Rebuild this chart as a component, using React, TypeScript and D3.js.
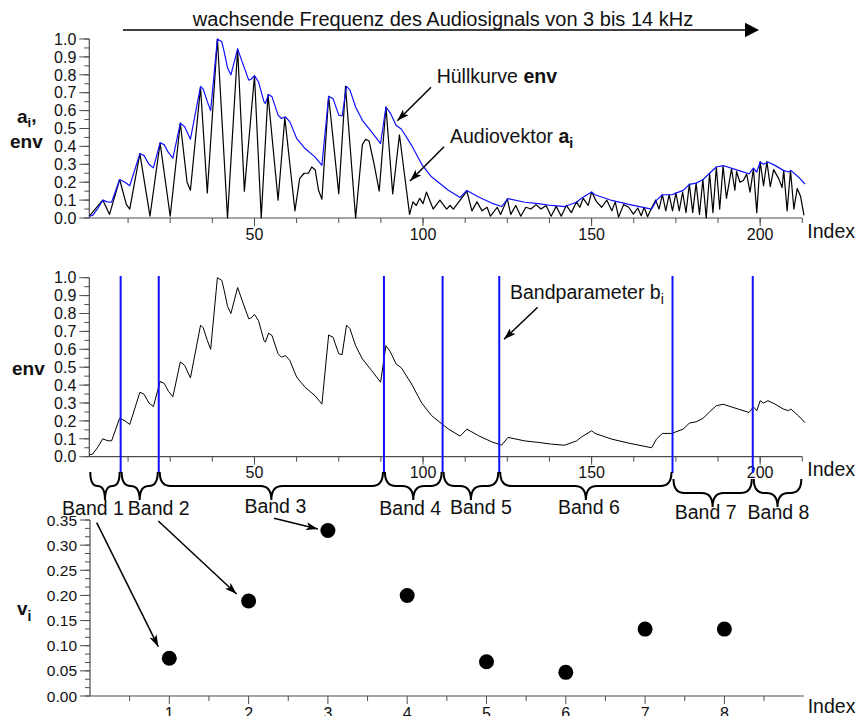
import * as d3 from "d3";

// audio vector a_i, read as [index, value] vertices
const audioVector: [number, number][] = [
  [1, 0.01], [5, 0.1], [7, 0.02], [10, 0.215], [12, 0.075], [13, 0.05], [16, 0.36], [19, 0.01],
  [22, 0.42], [25, 0.01], [28, 0.53], [30, 0.2], [31, 0.155], [34, 0.73], [36, 0.14], [39, 1.0],
  [42, 0.0], [45, 0.945], [47, 0.15], [50, 0.795], [52, 0.0], [54, 0.69], [57, 0.1], [59, 0.56],
  [62, 0.04], [63.4, 0.22], [64.7, 0.25], [66, 0.25], [67, 0.285], [68, 0.27], [69, 0.155], [70, 0.105],
  [72, 0.68], [75, 0.135], [77, 0.735], [80, 0.0], [82, 0.41], [83, 0.44], [84, 0.43], [85.5, 0.3],
  [87, 0.15], [89, 0.62], [91, 0.135], [93, 0.465], [96, 0.02], [97, 0.09], [98, 0.07], [99, 0.11],
  [100, 0.08], [101, 0.145], [103, 0.05], [105, 0.1], [107, 0.05], [108, 0.07], [109, 0.05], [111, 0.1],
  [113, 0.15], [114.5, 0.04], [116, 0.09], [117.5, 0.04], [119, 0.06], [120, 0.01], [122, 0.06], [123, 0.02],
  [125, 0.107], [126, 0.02], [127.5, 0.07], [129, 0.01], [130.5, 0.06], [132, 0.05], [133.5, 0.075], [135, 0.05],
  [136.5, 0.07], [138, 0.01], [139.5, 0.065], [141, 0.01], [142.5, 0.07], [144, 0.03], [145.5, 0.09], [146.5, 0.06],
  [147.5, 0.11], [149, 0.07], [150, 0.145], [151.5, 0.09], [153, 0.06], [154.5, 0.1], [156, 0.04], [157, 0.09],
  [158, 0.005], [159.5, 0.075], [161, 0.06], [162.4, 0.022], [163.7, 0.056], [164.7, 0.013], [165.6, 0.06], [166.6, 0.007],
  [167.8, 0.056], [169, 0.1], [170, 0.05], [171, 0.13], [172, 0.04], [173, 0.13], [174, 0.04], [175, 0.14],
  [176, 0.04], [177, 0.145], [178, 0.03], [179, 0.19], [180, 0.03], [181, 0.195], [182, 0.02], [183, 0.215],
  [184, 0.0], [185, 0.25], [186, 0.03], [187, 0.285], [188, 0.05], [189, 0.29], [190, 0.11], [191.5, 0.275],
  [192.5, 0.155], [193, 0.26], [194, 0.2], [195, 0.21], [196, 0.245], [197, 0.145], [198, 0.275], [199, 0.03],
  [200, 0.315], [201, 0.18], [202, 0.315], [203, 0.175], [204, 0.27], [205.5, 0.22], [206.5, 0.17], [207, 0.265],
  [208, 0.04], [209, 0.265], [210, 0.05], [211, 0.165], [212, 0.12], [213, 0.015],
];

// envelope env, read as [index, value] vertices
const envelope: [number, number][] = [
  [1, 0.01], [2, 0.015], [3.4, 0.05], [5, 0.1], [6.3, 0.09], [7.6, 0.088], [10, 0.215], [11.6, 0.2],
  [13, 0.18], [16, 0.36], [17.2, 0.35], [18.7, 0.3], [20, 0.28], [22, 0.42], [23.2, 0.41], [24.5, 0.365],
  [25.8, 0.335], [28, 0.53], [29.3, 0.51], [31, 0.44], [34, 0.735], [34.8, 0.72], [36, 0.65], [37, 0.6],
  [39, 1.0], [40.3, 0.985], [41, 0.93], [42, 0.84], [43, 0.8], [45, 0.945], [46.3, 0.875], [48.3, 0.77],
  [49, 0.775], [50, 0.795], [51.2, 0.76], [52.8, 0.65], [53.2, 0.64], [54.2, 0.69], [55.2, 0.677], [57, 0.575],
  [58, 0.556], [59.2, 0.565], [60.5, 0.537], [62.5, 0.445], [65, 0.388], [68, 0.34], [70, 0.294], [72, 0.68],
  [73.3, 0.667], [75, 0.575], [76, 0.57], [77.3, 0.735], [78.3, 0.716], [80, 0.62], [82, 0.546], [84.8, 0.48],
  [87.4, 0.416], [89, 0.62], [90.3, 0.586], [92, 0.518], [93.6, 0.496], [96.6, 0.406], [99.6, 0.3], [102.5, 0.23],
  [107.5, 0.155], [111, 0.115], [113, 0.154], [116.5, 0.117], [120.5, 0.082], [123.3, 0.064], [125.2, 0.108], [130.2, 0.088],
  [134.2, 0.08], [138.1, 0.07], [142, 0.064], [145.5, 0.088], [147, 0.11], [150, 0.145], [151, 0.13], [156, 0.098],
  [161, 0.076], [167.8, 0.05], [169.3, 0.1], [171, 0.13], [173.8, 0.13], [175, 0.139], [177.2, 0.154], [179, 0.188],
  [181, 0.195], [183, 0.214], [185, 0.25], [187, 0.285], [189, 0.293], [193.5, 0.266], [196.7, 0.247], [198, 0.278],
  [199, 0.257], [200, 0.313], [201, 0.3], [202.3, 0.313], [204.4, 0.294], [206.9, 0.266], [208.4, 0.257], [209.1, 0.266],
  [211.4, 0.228], [213.3, 0.19],
];

// band parameters b_i (index boundaries)
const bandBounds = [10.3, 21.6, 88.4, 105.8, 122.6, 174.0, 197.8];
const bandNames = ["Band 1", "Band 2", "Band 3", "Band 4", "Band 5", "Band 6", "Band 7", "Band 8"];
const bandNumbers = [1, 2, 3, 4, 5, 6, 7, 8];
const bandValues = [0.075, 0.189, 0.329, 0.2, 0.068, 0.047, 0.133, 0.133];

const indexTicks = [50, 100, 150, 200];
const bandTicks = [1, 2, 3, 4, 5, 6, 7, 8];

const FONT = "Liberation Sans, Arial, Helvetica, sans-serif";
const AXIS = "#4d4d4d";
const BLUE = "#1010ff";

// scales
const xIdx = d3.scaleLinear().domain([1, 212.5]).range([89.3, 802.3]);
const yTop = d3.scaleLinear().domain([0, 1]).range([218, 39]);
const yMid = d3.scaleLinear().domain([0, 1]).range([456.7, 277.7]);
const xBand = d3.scaleLinear().domain([0, 9]).range([90, 803.7]);
const yBand = d3.scaleLinear().domain([0, 0.35]).range([696, 520]);

function YAxis({ scale, x, major, minor, fmt, size }: any) {
  const [d0, d1] = scale.domain();
  return (
    <g>
      <line x1={x} x2={x} y1={scale(d0)} y2={scale(d1)} stroke={AXIS} strokeWidth={1.2} />
      {minor.map((v: number, i: number) => (
        <line key={"m" + i} x1={x - 5} x2={x} y1={scale(v)} y2={scale(v)} stroke={AXIS} strokeWidth={1} />
      ))}
      {major.map((v: number, i: number) => (
        <g key={"M" + i}>
          <line x1={x - 10} x2={x} y1={scale(v)} y2={scale(v)} stroke={AXIS} strokeWidth={1} />
          <text x={x - 13} y={scale(v) + size * 0.36} textAnchor="end" fontSize={size} fontFamily={FONT} fill="#111">
            {fmt(v)}
          </text>
        </g>
      ))}
    </g>
  );
}

function XAxis({ scale, y, x0, x1, major, minor, labelY, size, labelLen }: any) {
  return (
    <g>
      <line x1={scale(x0)} x2={scale(x1)} y1={y} y2={y} stroke={AXIS} strokeWidth={1.2} />
      {minor.map((v: number, i: number) => (
        <line key={"m" + i} x1={scale(v)} x2={scale(v)} y1={y} y2={y + 5} stroke={AXIS} strokeWidth={1} />
      ))}
      {major.map((v: number, i: number) => (
        <g key={"M" + i}>
          <line x1={scale(v)} x2={scale(v)} y1={y} y2={y + labelLen} stroke={AXIS} strokeWidth={1} />
          <text x={scale(v)} y={labelY} textAnchor="middle" fontSize={size} fontFamily={FONT} fill="#111">
            {v}
          </text>
        </g>
      ))}
      <text x={scale(x1) + 5} y={labelY - 2} fontSize={19.5} fontFamily={FONT} fill="#111">
        Index
      </text>
    </g>
  );
}

function bracePath(x1: number, x2: number, y: number, h: number) {
  const xm = (x1 + x2) / 2;
  const r = Math.min(11, (x2 - x1) / 4);
  const ym = y + h * 0.5;
  return `M${x1},${y} Q${x1},${ym} ${x1 + r},${ym} L${xm - r},${ym} Q${xm},${ym} ${xm},${y + h} ` +
    `Q${xm},${ym} ${xm + r},${ym} L${x2 - r},${ym} Q${x2},${ym} ${x2},${y}`;
}

// label offsets (layout only)
const bandLabelDx = [-12, 19, 4, -3, 10, 3, -7, 1];
const bandLabelY = [515, 515, 513, 515, 514, 514, 519, 519];
const braceTop = [472, 472, 472, 472, 472, 472, 479, 479];

export default function App() {
  const lineTop = d3.line<[number, number]>().x((d) => xIdx(d[0])).y((d) => yTop(d[1]));
  const lineMid = d3.line<[number, number]>().x((d) => xIdx(d[0])).y((d) => yMid(d[1]));

  const tenth = d3.range(0, 11).map((i) => i / 10);
  const twentieth = d3.range(0, 21).map((i) => i / 20);
  const idxMinor = d3.range(1, 18).map((i) => i * 12.5);
  const vMajor = d3.range(0, 8).map((i) => i * 0.05);
  const vMinor = d3.range(0, 22).map((i) => (i * 0.05) / 3);
  const bMinor = d3.range(1, 18).map((i) => i * 0.5);

  const edges = [xIdx.domain()[0], ...bandBounds, xIdx.domain()[1]];

  const dot = (n: number) => [xBand(bandNumbers[n]), yBand(bandValues[n])];
  const d1 = dot(0), d2 = dot(1), d3p = dot(2);

  return (
    <svg width={858} height={716} style={{ position: "absolute", left: 0, top: 0, background: "#fff" }}>
      <defs>
        <marker id="ah" viewBox="0 0 12 8" refX={12} refY={4} markerWidth={12} markerHeight={8} markerUnits="userSpaceOnUse" orient="auto">
          <path d="M0,0 L12,4 L0,8 L3,4 z" fill="#000" />
        </marker>
      </defs>

      {/* title arrow */}
      <text x={443} y={25.5} textAnchor="middle" fontSize={20} fontFamily={FONT} fill="#111">
        wachsende Frequenz des Audiosignals von 3 bis 14 kHz
      </text>
      <line x1={123} x2={746} y1={30} y2={30} stroke="#000" strokeWidth={1.6} />
      <path d="M745,22.7 L759,30 L745,37.3 z" fill="#000" />

      {/* top chart */}
      <YAxis scale={yTop} x={89.3} major={tenth} minor={twentieth} fmt={d3.format(".1f")} size={16} />
      <XAxis scale={xIdx} y={218} x0={1} x1={212.5} major={indexTicks} minor={idxMinor} labelY={240} size={16} labelLen={8} />
      <path d={lineTop(audioVector)!} fill="none" stroke="#000" strokeWidth={1.2} strokeLinejoin="round" />
      <path d={lineTop(envelope)!} fill="none" stroke={BLUE} strokeWidth={1.2} strokeLinejoin="round" />
      <text x={17} y={123} fontSize={19} fontWeight="bold" fontFamily={FONT} fill="#111">
        a<tspan fontSize={13} dy={4}>i</tspan><tspan dy={-5}>,</tspan>
      </text>
      <text x={10} y={148} fontSize={19} fontWeight="bold" fontFamily={FONT} fill="#111">env</text>

      <text x={436.7} y={83.3} fontSize={19.5} fontFamily={FONT} fill="#111">
        Hüllkurve <tspan fontWeight="bold">env</tspan>
      </text>
      <line x1={431} y1={87.3} x2={397.3} y2={120.7} stroke="#000" strokeWidth={1.5} markerEnd="url(#ah)" />
      <text x={450} y={142.7} fontSize={19.5} fontFamily={FONT} fill="#111">
        Audiovektor <tspan fontWeight="bold">a</tspan><tspan fontWeight="bold" fontSize={14} dy={5}>i</tspan>
      </text>
      <line x1={444} y1={146.7} x2={410} y2={181} stroke="#000" strokeWidth={1.5} markerEnd="url(#ah)" />

      {/* middle chart */}
      <YAxis scale={yMid} x={89.3} major={tenth} minor={twentieth} fmt={d3.format(".1f")} size={16} />
      <XAxis scale={xIdx} y={456.7} x0={1} x1={212.5} major={indexTicks} minor={idxMinor} labelY={478.3} size={16} labelLen={8} />
      <path d={lineMid(envelope)!} fill="none" stroke="#000" strokeWidth={1} strokeLinejoin="round" />
      <text x={12} y={375} fontSize={19} fontWeight="bold" fontFamily={FONT} fill="#111">env</text>
      {bandBounds.map((b, i) => (
        <line key={i} x1={xIdx(b)} x2={xIdx(b)} y1={276} y2={473} stroke={BLUE} strokeWidth={2} />
      ))}
      <text x={510} y={299} fontSize={19.5} fontFamily={FONT} fill="#111">
        Bandparameter b<tspan fontSize={14} dy={5}>i</tspan>
      </text>
      <line x1={537.7} y1={307.3} x2={504} y2={339.3} stroke="#000" strokeWidth={1.5} markerEnd="url(#ah)" />

      {/* braces and band labels */}
      {bandNames.map((name, i) => {
        const xa = xIdx(edges[i]) + 1;
        const xb = xIdx(edges[i + 1]) - 1;
        return (
          <g key={name}>
            <path d={bracePath(xa, xb, braceTop[i], 28)} fill="none" stroke="#000" strokeWidth={2} />
            <text x={(xa + xb) / 2 + bandLabelDx[i]} y={bandLabelY[i]} textAnchor="middle" fontSize={19.5} fontFamily={FONT} fill="#111">
              {name}
            </text>
          </g>
        );
      })}

      {/* bottom chart */}
      <YAxis scale={yBand} x={90} major={vMajor} minor={vMinor} fmt={d3.format(".2f")} size={15.5} />
      <g>
        <line x1={xBand(0)} x2={xBand(9)} y1={696} y2={696} stroke={AXIS} strokeWidth={1.2} />
        {bMinor.map((v, i) => (
          <line key={i} x1={xBand(v)} x2={xBand(v)} y1={696} y2={696 + (Number.isInteger(v) ? 8 : 5)} stroke={AXIS} strokeWidth={1} />
        ))}
        {bandTicks.map((v) => (
          <text key={v} x={xBand(v)} y={719} textAnchor="middle" fontSize={16} fontFamily={FONT} fill="#111">{v}</text>
        ))}
        <text x={xBand(9) + 4} y={713} fontSize={19.5} fontFamily={FONT} fill="#111">Index</text>
      </g>
      <text x={17} y={615} fontSize={19} fontWeight="bold" fontFamily={FONT} fill="#111">
        v<tspan fontSize={14} dy={6}>i</tspan>
      </text>
      {bandValues.map((v, i) => (
        <circle key={i} cx={xBand(bandNumbers[i])} cy={yBand(v)} r={7.5} fill="#000" />
      ))}
      <line x1={96.7} y1={522.7} x2={d1[0] - 11} y2={d1[1] - 11.6} stroke="#000" strokeWidth={1.5} markerEnd="url(#ah)" />
      <line x1={158.3} y1={521} x2={d2[0] - 12} y2={d2[1] - 7} stroke="#000" strokeWidth={1.5} markerEnd="url(#ah)" />
      <line x1={274} y1={518.3} x2={d3p[0] - 10} y2={d3p[1] - 1.5} stroke="#000" strokeWidth={1.5} markerEnd="url(#ah)" />
    </svg>
  );
}
